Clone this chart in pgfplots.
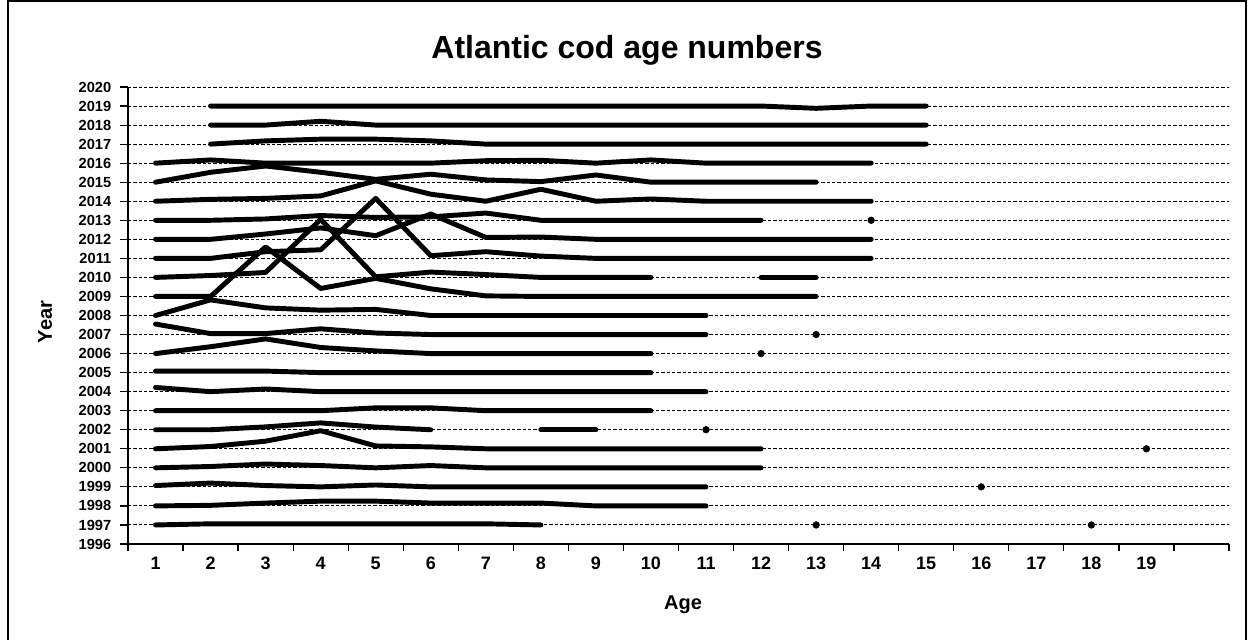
\documentclass[border=0pt]{standalone}
\usepackage{fontspec}
\setmainfont{Liberation Sans}
\usepackage{pgfplots}
\pgfplotsset{compat=1.18}

\pgfplotsset{
  cod/.style={black, line width=3.7pt, line join=round, line cap=round, mark=none},
  dot/.style={black, only marks, mark=*, mark size=2.5pt},
}

\begin{document}
\begin{tikzpicture}
\useasboundingbox (-96pt,-71.25pt) rectangle (840.75pt,408pt);
\begin{axis}[
  at={(0pt,0pt)}, anchor=south west,
  scale only axis, width=825.75pt, height=342.75pt,
  xmin=0.5, xmax=20.5, ymin=1996, ymax=2020,
  axis x line*=bottom, axis y line*=left,
  axis line style={line width=1.1pt, -},
  xtick={1,...,19}, minor xtick={0.5,1.5,...,20.5},
  ytick={1996,...,2020},
  tick align=outside,
  major tick length=6pt, minor tick length=5.5pt,
  major x tick style={draw=none},
  minor x tick style={black, line width=0.9pt},
  y tick style={black, line width=0.9pt},
  ymajorgrids,
  major grid style={black, line width=0.7pt, dash pattern=on 2.5pt off 1.5pt},
  /pgf/number format/assume math mode=true,
  /pgf/number format/1000 sep={},
  xticklabel style={font=\bfseries\fontsize{13.5}{15}\selectfont},
  yticklabel style={font=\bfseries\fontsize{11}{12}\selectfont, xshift=-3pt},
]
% 2019
\addplot[cod] coordinates {(2,2019)(3,2019)(4,2019)(5,2019)(6,2019)(7,2019)(8,2019)(9,2019)(10,2019)(11,2019)(12,2019)(13,2018.88)(14,2019)(15,2019)};
% 2018
\addplot[cod] coordinates {(2,2018)(3,2018)(4,2018.2)(5,2018)(6,2018)(7,2018)(8,2018)(9,2018)(10,2018)(11,2018)(12,2018)(13,2018)(14,2018)(15,2018)};
% 2017
\addplot[cod] coordinates {(2,2017)(3,2017.17)(4,2017.26)(5,2017.26)(6,2017.17)(7,2017)(8,2017)(9,2017)(10,2017)(11,2017)(12,2017)(13,2017)(14,2017)(15,2017)};
% 2016
\addplot[cod] coordinates {(1,2016)(2,2016.17)(3,2016)(4,2016)(5,2016)(6,2016)(7,2016.13)(8,2016.15)(9,2016)(10,2016.17)(11,2016)(12,2016)(13,2016)(14,2016)};
% 2015
\addplot[cod] coordinates {(1,2015)(2,2015.52)(3,2015.85)(4,2015.52)(5,2015.15)(6,2015.42)(7,2015.12)(8,2015.03)(9,2015.38)(10,2015)(11,2015)(12,2015)(13,2015)};
% 2014
\addplot[cod] coordinates {(1,2014)(2,2014.1)(3,2014.15)(4,2014.28)(5,2015.07)(6,2014.37)(7,2014)(8,2014.63)(9,2014)(10,2014.12)(11,2014)(12,2014)(13,2014)(14,2014)};
% 2013
\addplot[cod] coordinates {(1,2013)(2,2013)(3,2013.07)(4,2013.25)(5,2013.15)(6,2013.18)(7,2013.38)(8,2013)(9,2013)(10,2013)(11,2013)(12,2013)};
\addplot[dot] coordinates {(14,2013)};
% 2012
\addplot[cod] coordinates {(1,2012)(2,2012)(3,2012.28)(4,2012.6)(5,2012.19)(6,2013.33)(7,2012.1)(8,2012.12)(9,2012)(10,2012)(11,2012)(12,2012)(13,2012)(14,2012)};
% 2011
\addplot[cod] coordinates {(1,2011)(2,2011)(3,2011.35)(4,2011.45)(5,2014.15)(6,2011.14)(7,2011.35)(8,2011.12)(9,2011)(10,2011)(11,2011)(12,2011)(13,2011)(14,2011)};
% 2010
\addplot[cod] coordinates {(1,2010)(2,2010.1)(3,2010.26)(4,2013.05)(5,2010.03)(6,2010.28)(7,2010.15)(8,2010)(9,2010)(10,2010)};
\addplot[cod] coordinates {(12,2010)(13,2010)};
% 2009
\addplot[cod] coordinates {(1,2009)(2,2009)(3,2011.6)(4,2009.42)(5,2009.95)(6,2009.4)(7,2009.03)(8,2009)(9,2009)(10,2009)(11,2009)(12,2009)(13,2009)};
% 2008
\addplot[cod] coordinates {(1,2008)(2,2008.82)(3,2008.4)(4,2008.28)(5,2008.32)(6,2008)(7,2008)(8,2008)(9,2008)(10,2008)(11,2008)};
% 2007
\addplot[cod] coordinates {(1,2007.55)(2,2007.05)(3,2007.05)(4,2007.3)(5,2007.08)(6,2007)(7,2007)(8,2007)(9,2007)(10,2007)(11,2007)};
\addplot[dot] coordinates {(13,2007)};
% 2006
\addplot[cod] coordinates {(1,2006)(2,2006.36)(3,2006.77)(4,2006.32)(5,2006.14)(6,2006)(7,2006)(8,2006)(9,2006)(10,2006)};
\addplot[dot] coordinates {(12,2006)};
% 2005
\addplot[cod] coordinates {(1,2005.08)(2,2005.08)(3,2005.08)(4,2005)(5,2005)(6,2005)(7,2005)(8,2005)(9,2005)(10,2005)};
% 2004
\addplot[cod] coordinates {(1,2004.22)(2,2004)(3,2004.14)(4,2004)(5,2004)(6,2004)(7,2004)(8,2004)(9,2004)(10,2004)(11,2004)};
% 2003
\addplot[cod] coordinates {(1,2003)(2,2003)(3,2003)(4,2003)(5,2003.15)(6,2003.15)(7,2003)(8,2003)(9,2003)(10,2003)};
% 2002
\addplot[cod] coordinates {(1,2002)(2,2002)(3,2002.15)(4,2002.36)(5,2002.14)(6,2002)};
\addplot[cod] coordinates {(8,2002)(9,2002)};
\addplot[dot] coordinates {(11,2002)};
% 2001
\addplot[cod] coordinates {(1,2001)(2,2001.12)(3,2001.4)(4,2001.95)(5,2001.15)(6,2001.1)(7,2001)(8,2001)(9,2001)(10,2001)(11,2001)(12,2001)};
\addplot[dot] coordinates {(19,2001)};
% 2000
\addplot[cod] coordinates {(1,2000)(2,2000.07)(3,2000.2)(4,2000.12)(5,2000)(6,2000.12)(7,2000)(8,2000)(9,2000)(10,2000)(11,2000)(12,2000)};
% 1999
\addplot[cod] coordinates {(1,1999.07)(2,1999.2)(3,1999.07)(4,1999)(5,1999.1)(6,1999)(7,1999)(8,1999)(9,1999)(10,1999)(11,1999)};
\addplot[dot] coordinates {(16,1999)};
% 1998
\addplot[cod] coordinates {(1,1998)(2,1998.03)(3,1998.15)(4,1998.25)(5,1998.25)(6,1998.15)(7,1998.15)(8,1998.15)(9,1998)(10,1998)(11,1998)};
% 1997
\addplot[cod] coordinates {(1,1997)(2,1997.06)(3,1997.06)(4,1997.06)(5,1997.06)(6,1997.06)(7,1997.06)(8,1997)};
\addplot[dot] coordinates {(13,1997)(18,1997)};
\end{axis}
\node[font=\bfseries\fontsize{24}{28}\selectfont] at (374.25pt,370.5pt) {Atlantic cod age numbers};
\node[font=\bfseries\fontsize{15}{18}\selectfont, rotate=90] at (-62.25pt,166.5pt) {Year};
\node[font=\bfseries\fontsize{15}{18}\selectfont] at (416.25pt,-45.75pt) {Age};
\draw[line width=1.1pt] (-90pt,-72pt) -- (-90pt,407.25pt) -- (838.5pt,407.25pt) -- (838.5pt,-72pt);
\end{tikzpicture}
\end{document}
